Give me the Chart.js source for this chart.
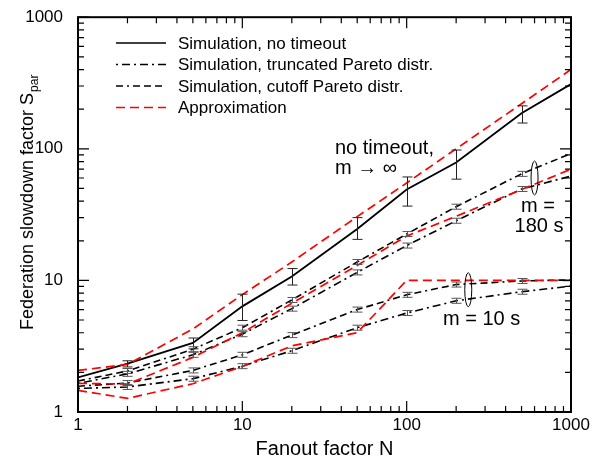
<!DOCTYPE html>
<html>
<head>
<meta charset="utf-8">
<script src="https://cdn.jsdelivr.net/npm/chart.js@4/dist/chart.umd.min.js"></script>
<style>
  body { margin: 0; background: #fff; }
  canvas { display: block; }
</style>
</head>
<body>
<canvas id="chart" width="612" height="465"></canvas>
<script>
const fanout = [1, 2, 5, 10, 20, 50, 100, 200, 500, 1000];
const tickValues = [1, 10, 100, 1000];

const simNoTimeout = [1.83, 2.33, 3.35, 6.35, 10.7, 24.6, 49, 78.7, 186, 310];
const simNoTimeoutLow = [null, 2.2, 3.02, 4.96, 9.22, 20.5, 36.7, 58.8, 157, null];
const simNoTimeoutHigh = [null, 2.45, 3.65, 7.86, 12.3, 30.0, 61.1, 97.8, 212, null];
const approxNoTimeout = [2.07, 2.3, 4.27, 7.8, 13.8, 30.5, 55, 100, 220, 400];

const cutoff180 = [1.72, 2.05, 3.0, 4.37, 7.1, 13.8, 22.5, 36.3, 64.5, 92];
const truncated180 = [1.65, 1.95, 2.72, 3.9, 6.1, 11.5, 18.4, 28.4, 49.5, 62];
const approx180 = [1.65, 1.63, 2.6, 4.0, 6.7, 13.0, 21.7, 30.7, 49, 70];

const cutoff10 = [1.57, 1.66, 2.07, 2.72, 3.84, 6.0, 7.77, 9.3, 9.9, 10.1];
const truncated10 = [1.51, 1.55, 1.79, 2.23, 2.92, 4.37, 5.65, 7.0, 8.2, 9.05];
const approx10 = [1.46, 1.27, 1.64, 2.22, 3.18, 4.0, 10, 10, 10, 10];

const legendLabels = ['Simulation, no timeout', 'Simulation, truncated Pareto distr.',
  'Simulation, cutoff Pareto distr.', 'Approximation'];

const FONT = '"Liberation Sans", Arial, Helvetica, sans-serif';
const dashTrunc = [2, 4, 8, 4];
const dashCutoff = [7, 4, 2, 4, 7, 4, 7, 4];
const dashApprox = [9, 5];

function pts(arr) {
  return fanout.map((n, i) => ({ x: n, y: arr[i] }));
}

function line(data, color, dash, width, marks) {
  return {
    data: pts(data),
    borderColor: color,
    borderDash: dash,
    borderWidth: width,
    pointRadius: 0,
    tension: 0,
    fill: false,
    smallMarks: marks
  };
}

const decor = {
  id: 'decor',
  afterDatasetsDraw(chart) {
    const { ctx, chartArea: a, scales: { x, y } } = chart;
    ctx.save();

    // error bars, no timeout
    ctx.strokeStyle = '#222';
    ctx.lineWidth = 1;
    fanout.forEach((n, i) => {
      if (simNoTimeoutLow[i] == null) return;
      const px = Math.round(x.getPixelForValue(n)) + 0.5;
      const y1 = y.getPixelForValue(simNoTimeoutLow[i]);
      const y2 = y.getPixelForValue(simNoTimeoutHigh[i]);
      ctx.beginPath();
      ctx.moveTo(px, y1); ctx.lineTo(px, y2);
      ctx.moveTo(px - 5, y1); ctx.lineTo(px + 5, y1);
      ctx.moveTo(px - 5, y2); ctx.lineTo(px + 5, y2);
      ctx.stroke();
    });

    // tiny error marks on the timeout simulations
    ctx.strokeStyle = '#555';
    chart.data.datasets.forEach(ds => {
      if (!ds.smallMarks) return;
      ds.data.forEach((p, i) => {
        if (i === 0 || i === ds.data.length - 1) return;
        const px = Math.round(x.getPixelForValue(p.x)) + 0.5;
        const py = y.getPixelForValue(p.y);
        ctx.beginPath();
        ctx.moveTo(px - 5, py - 2.5); ctx.lineTo(px + 5, py - 2.5);
        ctx.moveTo(px - 5, py + 2.5); ctx.lineTo(px + 5, py + 2.5);
        ctx.moveTo(px, py - 2.5); ctx.lineTo(px, py + 2.5);
        ctx.stroke();
      });
    });

    // ellipses grouping the timeout curves
    ctx.strokeStyle = '#000';
    ctx.lineWidth = 1;
    [[600, 60], [237, 8.5]].forEach(([n, s]) => {
      ctx.beginPath();
      ctx.ellipse(x.getPixelForValue(n), y.getPixelForValue(s), 3.5, 17, 0, 0, Math.PI * 2);
      ctx.stroke();
    });

    // frame and inward ticks on all sides
    ctx.lineWidth = 2;
    ctx.strokeRect(a.left, a.top, a.right - a.left, a.bottom - a.top);
    ctx.lineWidth = 1.2;
    ctx.beginPath();
    for (let d = 1; d <= 1000; d *= 10) {
      for (let k = 1; k <= 9; k++) {
        const v = d * k;
        if (v > 1000) break;
        const len = k === 1 ? 11 : 6;
        const px = x.getPixelForValue(v);
        const py = y.getPixelForValue(v);
        ctx.moveTo(px, a.bottom); ctx.lineTo(px, a.bottom - len);
        ctx.moveTo(px, a.top); ctx.lineTo(px, a.top + len);
        ctx.moveTo(a.left, py); ctx.lineTo(a.left + len, py);
        ctx.moveTo(a.right, py); ctx.lineTo(a.right - len, py);
      }
    }
    ctx.stroke();

    // legend
    const styles = [
      { color: '#000', dash: [] },
      { color: '#000', dash: dashTrunc },
      { color: '#000', dash: dashCutoff },
      { color: '#ff0000', dash: dashApprox }
    ];
    ctx.font = '17px ' + FONT;
    ctx.fillStyle = '#000';
    ctx.textBaseline = 'middle';
    legendLabels.forEach((t, i) => {
      const ly = 43 + i * 21.5;
      ctx.strokeStyle = styles[i].color;
      ctx.lineWidth = 1.6;
      ctx.setLineDash(styles[i].dash);
      ctx.beginPath();
      ctx.moveTo(116, ly); ctx.lineTo(166, ly);
      ctx.stroke();
      ctx.setLineDash([]);
      ctx.fillText(t, 178, ly + 1);
    });

    // annotations
    ctx.font = '20px ' + FONT;
    ctx.textBaseline = 'alphabetic';
    ctx.textAlign = 'left';
    ctx.fillText('no timeout,', 335, 154);
    ctx.fillText('m \u2192 \u221e', 335, 174);
    ctx.textAlign = 'center';
    ctx.fillText('m =', 538, 212);
    ctx.fillText('180 s', 539, 232);
    ctx.textAlign = 'left';
    ctx.fillText('m = 10 s', 443, 325);

    // axis titles
    ctx.font = '20px ' + FONT;
    ctx.textAlign = 'center';
    ctx.fillText('Fanout factor N', (a.left + a.right) / 2, 455);

    ctx.translate(33, 330);
    ctx.rotate(-Math.PI / 2);
    ctx.textAlign = 'left';
    ctx.font = '18px ' + FONT;
    const main = 'Federation slowdown factor S';
    ctx.fillText(main, 0, 0);
    const w = ctx.measureText(main).width;
    ctx.font = '12px ' + FONT;
    ctx.fillText('par', w + 1, 5);

    ctx.restore();
  }
};

function logAxis(extra) {
  return Object.assign({
    type: 'logarithmic',
    min: 1,
    max: 1000,
    grid: { display: false },
    border: { display: false },
    afterBuildTicks: s => { s.ticks = tickValues.map(v => ({ value: v })); },
    ticks: {
      color: '#000',
      font: { family: FONT, size: 17 },
      autoSkip: false,
      maxRotation: 0,
      callback: v => String(v)
    }
  }, extra);
}

const xAxis = logAxis({ afterFit: s => { s.height = 53; } });
xAxis.ticks.padding = -5;
const yAxis = logAxis({ afterFit: s => { s.width = 78; } });
yAxis.ticks.padding = 7;

new Chart(document.getElementById('chart').getContext('2d'), {
  type: 'line',
  data: {
    datasets: [
      line(approxNoTimeout, '#ff0000', dashApprox, 1.7, false),
      line(simNoTimeout, '#000', [], 1.8, false),
      line(approx180, '#ff0000', dashApprox, 1.7, false),
      line(cutoff180, '#000', dashCutoff, 1.6, true),
      line(truncated180, '#000', dashTrunc, 1.6, true),
      line(approx10, '#ff0000', dashApprox, 1.7, false),
      line(cutoff10, '#000', dashCutoff, 1.6, true),
      line(truncated10, '#000', dashTrunc, 1.6, true)
    ]
  },
  options: {
    responsive: false,
    animation: false,
    layout: { padding: { top: 12, right: 41, left: 0, bottom: 0 } },
    plugins: { legend: { display: false }, tooltip: { enabled: false } },
    scales: { x: xAxis, y: yAxis }
  },
  plugins: [decor]
});
</script>
</body>
</html>
